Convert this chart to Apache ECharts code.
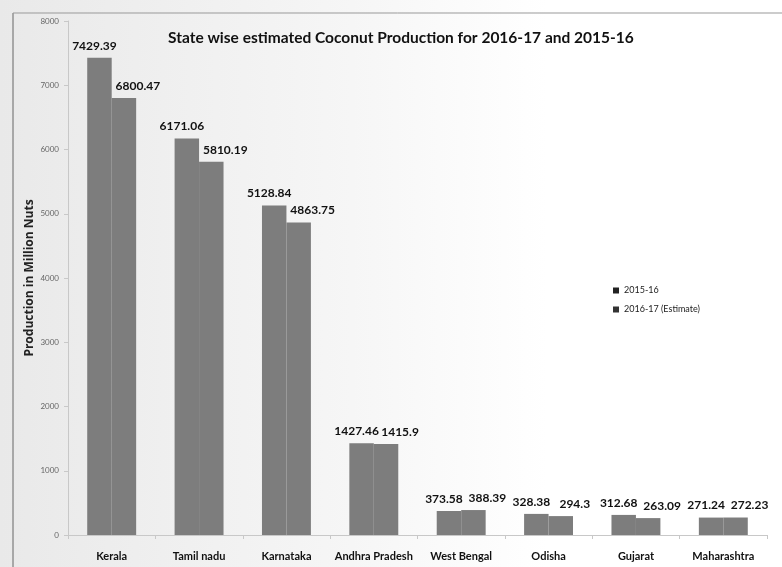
<!DOCTYPE html>
<html>
<head>
<meta charset="utf-8">
<script src="https://cdn.jsdelivr.net/npm/echarts@6/dist/echarts.min.js"></script>
<style>html,body{margin:0;padding:0;background:#fff}#c{width:782px;height:567px}</style>
</head>
<body>
<div id="c"></div>
<script>
var categories = ['Kerala', 'Tamil nadu', 'Karnataka', 'Andhra Pradesh', 'West Bengal', 'Odisha', 'Gujarat', 'Maharashtra'];
var series2015 = [7429.39, 6171.06, 5128.84, 1427.46, 373.58, 328.38, 312.68, 271.24];
var series2016 = [6800.47, 5810.19, 4863.75, 1415.9, 388.39, 294.3, 263.09, 272.23];
var seriesNames = ['2015-16', '2016-17 (Estimate)'];
var titleText = 'State wise estimated Coconut Production for 2016-17 and 2015-16';
var yAxisName = 'Production in Million Nuts';

var FONT = 'Lato, "Open Sans", sans-serif';
var chart = echarts.init(document.getElementById('c'));
var labelStyle = {
  show: true, position: 'top', color: '#111', fontWeight: 'bold',
  fontSize: 12, fontFamily: FONT, distance: 6
};
chart.setOption({
  backgroundColor: {
    type: 'linear', x: 0, y: 0, x2: 1, y2: 0,
    colorStops: [{offset: 0, color: '#e9e9e9'}, {offset: 0.45, color: '#f6f6f6'}, {offset: 0.7, color: '#ffffff'}, {offset: 1, color: '#ffffff'}]
  },
  animation: false,
  title: {
    text: titleText, left: 163, top: 25,
    textStyle: {fontFamily: FONT, fontWeight: 'bold', fontSize: 15.5, color: '#111'}
  },
  legend: {
    orient: 'vertical', left: 608, top: 281, itemWidth: 6, itemHeight: 6, itemGap: 10,
    icon: 'rect',
    textStyle: {fontFamily: FONT, fontSize: 9, color: '#222'},
    data: [
      {name: seriesNames[0], itemStyle: {color: '#222'}},
      {name: seriesNames[1], itemStyle: {color: '#333'}}
    ]
  },
  grid: {left: 68, right: 15, top: 21, bottom: 32, containLabel: false},
  xAxis: {
    type: 'category', data: categories,
    axisLine: {lineStyle: {color: '#c8c8c8'}},
    axisTick: {show: true, length: 4, lineStyle: {color: '#c8c8c8'}},
    axisLabel: {color: '#111', fontWeight: 'bold', fontSize: 11, fontFamily: FONT, margin: 16, interval: 0}
  },
  yAxis: {
    type: 'value', min: 0, max: 8000, interval: 1000,
    name: yAxisName, nameLocation: 'middle', nameGap: 32, nameRotate: 90, nameMoveOverlap: false,
    nameTextStyle: {color: '#222', fontWeight: 'bold', fontSize: 12, fontFamily: '"Open Sans", sans-serif'},
    axisLine: {show: true, lineStyle: {color: '#c8c8c8'}},
    axisTick: {show: true, length: 4, lineStyle: {color: '#c8c8c8'}},
    splitLine: {show: false},
    axisLabel: {color: '#666', fontSize: 8, fontFamily: FONT, margin: 9, formatter: function (v) { return String(v); }}
  },
  graphic: [
    {type: 'line', shape: {x1: 13, y1: 13, x2: 13, y2: 567}, style: {stroke: '#666', lineWidth: 1}},
    {type: 'line', shape: {x1: 13, y1: 13, x2: 782, y2: 13}, style: {stroke: '#999', lineWidth: 1}}
  ],
  series: [
    {
      name: seriesNames[0], type: 'bar', data: series2015, barWidth: '28%', barGap: '0%',
      itemStyle: {color: '#7d7d7d'},
      label: Object.assign({}, labelStyle, {offset: [-5, 0]})
    },
    {
      name: seriesNames[1], type: 'bar', data: series2016, barWidth: '28%',
      itemStyle: {color: '#7d7d7d'},
      label: Object.assign({}, labelStyle, {offset: [14, 0]})
    }
  ]
});
</script>
</body>
</html>
